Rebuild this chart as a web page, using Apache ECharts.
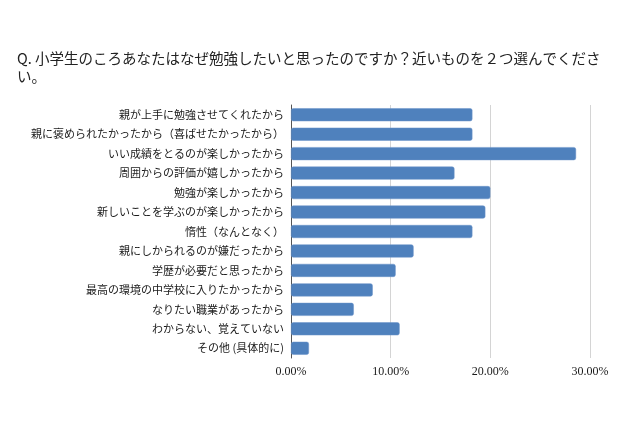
<!DOCTYPE html>
<html>
<head>
<meta charset="utf-8">
<script src="https://cdn.jsdelivr.net/npm/echarts@6/dist/echarts.min.js"></script>
<style>html,body{margin:0;padding:0;background:#fff;}#c{width:640px;height:426px;}</style>
</head>
<body>
<div id="c"></div>
<script>
const titleText = "Q. 小学生のころあなたはなぜ勉強したいと思ったのですか？近いものを２つ選んでくださ\nい。";
const categories = [
  "親が上手に勉強させてくれたから",
  "親に褒められたかったから（喜ばせたかったから）",
  "いい成績をとるのが楽しかったから",
  "周囲からの評価が嬉しかったから",
  "勉強が楽しかったから",
  "新しいことを学ぶのが楽しかったから",
  "惰性（なんとなく）",
  "親にしかられるのが嫌だったから",
  "学歴が必要だと思ったから",
  "最高の環境の中学校に入りたかったから",
  "なりたい職業があったから",
  "わからない、覚えていない",
  "その他 (具体的に)"
];
const values = [18.2, 18.2, 28.6, 16.4, 20.0, 19.5, 18.2, 12.3, 10.5, 8.2, 6.3, 10.9, 1.8];
const xTicks = { min: 0, max: 30, interval: 10 };

const chart = echarts.init(document.getElementById('c'));
chart.setOption({
  animation: false,
  backgroundColor: '#fff',
  title: {
    text: titleText,
    left: 12,
    top: 44,
    textStyle: { fontFamily: 'Noto Sans CJK JP', fontSize: 14.5, fontWeight: 'normal', color: '#222', lineHeight: 18 }
  },
  grid: { left: 291, right: 50, top: 105, height: 253, containLabel: false },
  xAxis: {
    type: 'value',
    min: xTicks.min, max: xTicks.max, interval: xTicks.interval,
    axisLine: { show: false },
    axisTick: { show: false },
    splitLine: { show: true, lineStyle: { color: '#d4d4d4', width: 1 } },
    axisLabel: {
      formatter: v => v.toFixed(2) + '%',
      fontFamily: 'Liberation Serif', fontSize: 12, color: '#1a1a1a', margin: 8
    }
  },
  yAxis: {
    type: 'category',
    data: categories,
    inverse: true,
    axisLine: { show: true, onZero: false, lineStyle: { color: '#555', width: 1 } },
    axisTick: { show: false },
    axisLabel: { fontFamily: 'Noto Sans CJK JP', fontSize: 11, color: '#1a1a1a', margin: 7 }
  },
  series: [{
    type: 'bar',
    data: values,
    barWidth: 13,
    itemStyle: { color: '#4f81bd', borderRadius: 2, borderColor: '#6a93c8', borderWidth: 0.5 }
  }]
});
</script>
</body>
</html>
